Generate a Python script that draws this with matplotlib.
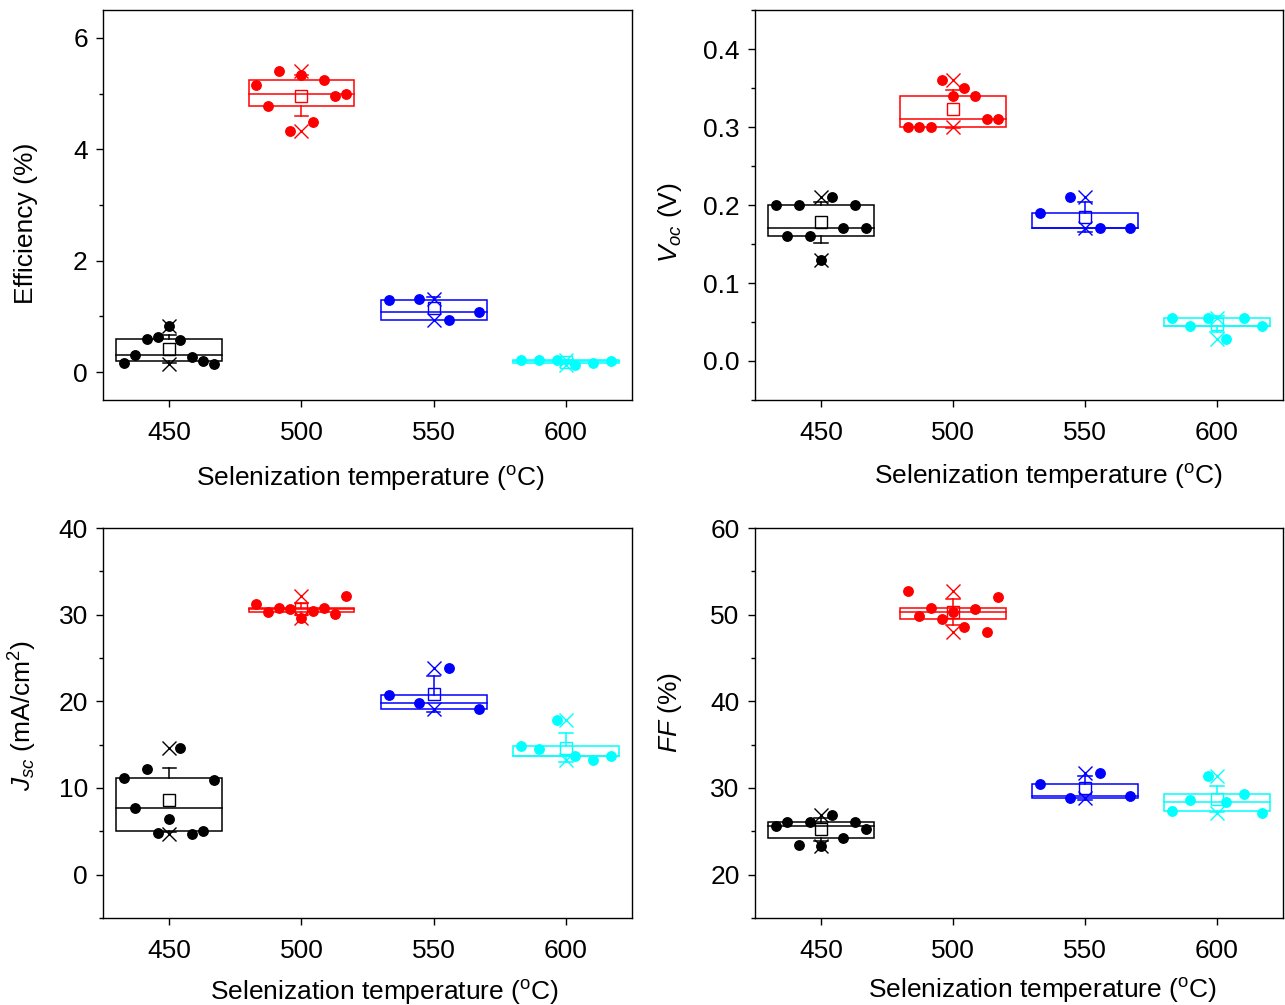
import numpy as np
import matplotlib
matplotlib.use("Agg")
import matplotlib.pyplot as plt
from matplotlib.patches import Rectangle
from matplotlib.ticker import MultipleLocator, FormatStrFormatter

plt.rcParams["font.family"] = ["Liberation Sans", "DejaVu Sans"]
plt.rcParams["mathtext.fontset"] = "custom"
plt.rcParams["mathtext.rm"] = "Liberation Sans"
plt.rcParams["mathtext.it"] = "Liberation Sans:italic"
plt.rcParams["font.size"] = 19

temps = [450, 500, 550, 600]
colors = ["black", "red", "blue", "cyan"]

# efficiency (%) - values as read left to right in each box
eff_450 = [0.17, 0.31, 0.59, 0.63, 0.83, 0.57, 0.28, 0.20, 0.15]
eff_500 = [5.15, 4.77, 5.40, 4.33, 5.34, 4.49, 5.24, 4.95, 4.99]
eff_550 = [1.30, 1.32, 0.93, 1.08]
eff_600 = [0.21, 0.22, 0.21, 0.12, 0.17, 0.20]

# Voc (V)
voc_450 = [0.20, 0.16, 0.20, 0.16, 0.13, 0.21, 0.17, 0.20, 0.17]
voc_500 = [0.30, 0.30, 0.30, 0.36, 0.34, 0.35, 0.34, 0.31, 0.31]
voc_550 = [0.19, 0.21, 0.17, 0.17]
voc_600 = [0.055, 0.045, 0.055, 0.028, 0.055, 0.045]

# Jsc (mA/cm2)
jsc_450 = [11.19, 7.73, 12.15, 4.85, 6.46, 14.58, 4.69, 5.04, 10.96]
jsc_500 = [31.19, 30.35, 30.77, 30.65, 29.6, 30.42, 30.8, 30.1, 32.1]
jsc_550 = [20.77, 19.77, 23.85, 19.08]
jsc_600 = [14.85, 14.54, 17.8, 13.7, 13.27, 13.73]

# FF (%)
ff_450 = [25.58, 26.04, 23.4, 26.12, 23.3, 26.88, 24.23, 26.08, 25.31]
ff_500 = [52.73, 49.85, 50.73, 49.5, 50.31, 48.62, 50.62, 48.04, 52.04]
ff_550 = [30.5, 28.85, 31.77, 29.04]
ff_600 = [27.38, 28.65, 31.35, 28.42, 29.31, 27.15]


def box_group(ax, x, vals, color):
    vals = np.asarray(vals, dtype=float)
    q1, med, q3 = np.percentile(vals, [25, 50, 75], method="inverted_cdf")
    mean = vals.mean()
    sd = vals.std(ddof=1)
    hw = 20   # half box width
    cap = 2.5
    ax.add_patch(Rectangle((x - hw, q1), 2 * hw, q3 - q1, fill=False,
                           ec=color, lw=1.1, zorder=2))
    ax.plot([x - hw, x + hw], [med, med], color=color, lw=1.1, zorder=2)
    # whiskers: mean +/- 1 SD
    top, bot = mean + sd, mean - sd
    if top > q3:
        ax.plot([x, x], [q3, top], color=color, lw=1.1, zorder=2)
        ax.plot([x - cap, x + cap], [top, top], color=color, lw=1.1, zorder=2)
    if bot < q1:
        ax.plot([x, x], [q1, bot], color=color, lw=1.1, zorder=2)
        ax.plot([x - cap, x + cap], [bot, bot], color=color, lw=1.1, zorder=2)
    offs = np.linspace(-17, 17, len(vals))
    ax.plot(x + offs, vals, "o", color=color, ms=6.8, mec=color, zorder=3)
    ax.plot([x], [mean], "s", mfc="none", mec=color, ms=8, mew=1.0, zorder=4)
    ax.plot([x, x], [vals.min(), vals.max()], "x", color=color, ms=10,
            mew=1.0, zorder=4)


fig = plt.figure(figsize=(12.85, 10.05), dpi=100)
ax1 = fig.add_axes([0.0802, 0.602, 0.4117, 0.388])
ax2 = fig.add_axes([0.5875, 0.602, 0.411, 0.388])
ax3 = fig.add_axes([0.0802, 0.0866, 0.4117, 0.388])
ax4 = fig.add_axes([0.5875, 0.0866, 0.411, 0.388])

panels = [
    (ax1, [eff_450, eff_500, eff_550, eff_600], "Efficiency (%)", (-0.5, 6.5), 2, 1, "%d",
     (-0.123, 0.454), (0.505, -0.165)),
    (ax2, [voc_450, voc_500, voc_550, voc_600], r"$V_{oc}$ (V)", (-0.05, 0.45), 0.1, 0.05, "%.1f",
     (-0.134, 0.454), (0.555, -0.158)),
    (ax3, [jsc_450, jsc_500, jsc_550, jsc_600], r"$J_{sc}$ (mA/cm$^{\rm 2}$)", (-5, 40), 10, 5, "%d",
     (-0.121, 0.52), (0.531, -0.155)),
    (ax4, [ff_450, ff_500, ff_550, ff_600], r"$FF$ (%)", (15, 60), 10, 5, "%d",
     (-0.134, 0.528), (0.544, -0.148)),
]

for ax, groups, ylab, ylim, major, minor, fmt, ypos, xpos in panels:
    for t, vals, c in zip(temps, groups, colors):
        box_group(ax, t, vals, c)
    ax.set_xlim(425, 625)
    ax.set_ylim(*ylim)
    ax.set_xticks(temps)
    ax.yaxis.set_major_locator(MultipleLocator(major))
    ax.yaxis.set_minor_locator(MultipleLocator(minor))
    ax.yaxis.set_major_formatter(FormatStrFormatter(fmt))
    ax.tick_params(axis="both", which="major", direction="out", length=5, width=1)
    ax.tick_params(axis="x", which="major", pad=10)
    ax.tick_params(axis="y", which="major", pad=6)
    ax.tick_params(axis="y", which="minor", direction="out", length=3, width=1)
    for s in ax.spines.values():
        s.set_linewidth(1.0)
    ax.set_xlabel(r"Selenization temperature ($^{\rm o}$C)")
    ax.set_ylabel(ylab)
    ax.yaxis.set_label_coords(*ypos)
    ax.xaxis.set_label_coords(*xpos)

fig.savefig("out.png", dpi=100)
